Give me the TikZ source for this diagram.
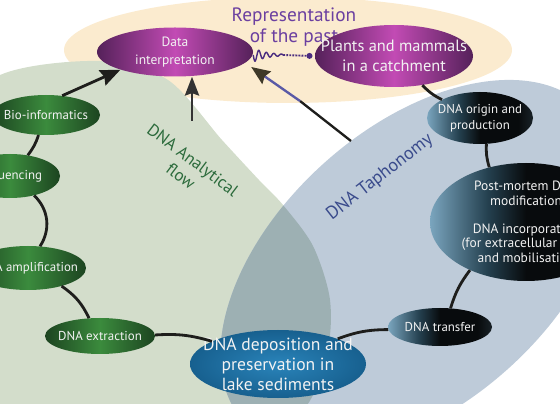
\documentclass[tikz,border=0pt]{standalone}
\usepackage{fontspec}
\setmainfont{PT Sans}
\usetikzlibrary{arrows.meta,shapes.geometric}
\newdimen\pxl \pxl=0.03cm
\definecolor{creambg}{HTML}{FBEBCF}
\definecolor{greenbg}{HTML}{D3DDCB}
\definecolor{bluebg}{HTML}{BECBD9}
\definecolor{mixbg}{HTML}{9DB0B3}
\definecolor{pudark}{HTML}{55215A}
\definecolor{pulight}{HTML}{C24BB4}
\definecolor{grdark}{HTML}{1C4420}
\definecolor{grlight}{HTML}{3B8B3D}
\definecolor{sllight}{HTML}{7AA5BE}
\definecolor{slmid}{HTML}{24404F}
\definecolor{sldark}{HTML}{080B0D}
\definecolor{sedouter}{HTML}{17608F}
\definecolor{sedinner}{HTML}{2A84BA}
\definecolor{ringcol}{HTML}{1E1E1C}
\definecolor{wavecol}{HTML}{4A2C7F}
\definecolor{titlecol}{HTML}{6B3FA0}
\definecolor{flowcol}{HTML}{2C6B3C}
\definecolor{taphcol}{HTML}{3A4B8C}
\definecolor{tipcol}{HTML}{3E3828}
\pgfdeclarehorizontalshading{slateshade}{100bp}{color(0bp)=(sllight); color(25bp)=(sllight);
  color(40bp)=(slmid); color(50bp)=(sldark); color(68bp)=(sldark); color(75bp)=(sldark!85!sllight); color(100bp)=(sldark!85!sllight)}
\tikzset{
  bubble/.style={ellipse, inner sep=-60pt, align=center, text=white!95!black,
    font=\fontsize{11}{13.5}\selectfont},
  greenbub/.style={bubble, left color=grdark, right color=grdark, middle color=grlight},
  slatebub/.style={bubble, shading=slateshade},
  purplebub/.style={bubble, left color=pudark, right color=pudark, middle color=pulight},
  ringline/.style={line width=2.4pt, draw=ringcol},
  bigarrow/.style={line width=2.4pt, -{Stealth[length=17pt,width=14pt,inset=2pt]}},
}
\begin{document}
\begin{tikzpicture}[x=0.03cm,y=-0.03cm]
\useasboundingbox (0,0) rectangle (560,404);
\clip (0,0) rectangle (560,404);
\def\greenpath{plot[smooth cycle] coordinates {(-80,140) (0,75) (100,61) (168,80) (222,140) (259,180) (283,205) (313,246) (330,300) (326,355) (292,420) (150,470) (-80,400)}}
\def\bluepath{[rotate around={42:(416,266)}] (416,266) ellipse [x radius=232, y radius=138]}
%background fields
\fill[creambg] (288,50) ellipse [x radius=224, y radius=53];
\fill[greenbg] \greenpath;
\fill[bluebg] \bluepath;
\begin{scope}
  \clip \greenpath;
  \fill[mixbg] \bluepath;
\end{scope}
%field labels
\node[text=titlecol, align=center, font=\fontsize{16.5}{17.5}\selectfont] (past) at (294,27) {Representation\\of the past};
\node[text=flowcol, align=center, rotate=-37, font=\fontsize{14.5}{17}\selectfont] (flow) at (187,168) {DNA Analytical\\flow};
\node[text=taphcol, rotate=38, font=\fontsize{15.5}{17}\selectfont] (taph) at (380,177) {DNA Taphonomy};
%top nodes
\node[purplebub, minimum width=156\pxl, minimum height=49\pxl, font=\fontsize{11.5}{15}\selectfont] (interp) at (175,52) {Data\\interpretation};
\node[purplebub, minimum width=158\pxl, minimum height=62\pxl, font=\fontsize{14}{17}\selectfont] (plants) at (394,56) {Plants and mammals\\in a catchment};
%analytical flow
\node[greenbub, minimum width=108\pxl, minimum height=40\pxl] (bioinf) at (46,115) {Bio-informatics};
\node[greenbub, minimum width=100\pxl, minimum height=44\pxl] (seq) at (10,176) {Sequencing};
\node[greenbub, minimum width=116\pxl, minimum height=44\pxl] (ampl) at (28,268) {DNA amplification};
\node[greenbub, minimum width=110\pxl, minimum height=36\pxl] (extr) at (100,336) {DNA extraction};
%taphonomy
\node[slatebub, minimum width=106\pxl, minimum height=52\pxl] (origin) at (480,118) {DNA origin and\\production};
\node[slatebub, minimum width=192\pxl, minimum height=118\pxl, font=\fontsize{11.5}{12.5}\selectfont] (postm) at (526,222) {Post-mortem DNA\\modification\\[11pt]DNA incorporation\\(for extracellular DNA)\\and mobilisation};
\node[slatebub, minimum width=104\pxl, minimum height=38\pxl] (transfer) at (440,327) {DNA transfer};
\node[bubble, shading=radial, inner color=sedinner, outer color=sedouter, minimum width=176\pxl, minimum height=68\pxl,
  font=\fontsize{15}{17}\selectfont] (depo) at (278,364) {DNA deposition and\\preservation in\\lake sediments};
%ring of connectors
\draw[ringline] (plants) to[bend right=10] (origin);
\draw[ringline] (origin) to[bend right=10] (postm);
\draw[ringline] (postm) to[bend right=10] (transfer);
\draw[ringline] (transfer) to[bend right=10] (depo);
\draw[ringline] (depo) to[bend right=10] (extr);
\draw[ringline] (extr) to[bend right=15] (ampl);
\draw[ringline] (ampl) to[bend right=40] (seq);
\draw[ringline] (seq) to[bend right=10] (bioinf);
%arrows to data interpretation
\coordinate (vstart) at (192,121);
\coordinate (tstart) at (351,141);
\coordinate (tmid) at (300,101);
\coordinate (ttip) at ([shift={(-2,15)}]interp.east);
\draw[bigarrow, ringcol] (bioinf.50) -- (interp.198);
\draw[bigarrow, black!80, -{Stealth[length=16pt,width=12pt,inset=2pt]}] (vstart) -- (vstart |- interp.south);
\draw[line width=2pt, ringcol] (tstart) -- (tmid);
\draw[line width=2pt, gray!70!blue, -{Stealth[length=16pt,width=13pt,inset=2pt,fill=tipcol,color=tipcol]}] (tmid) -- (ttip);
%wavy link to the catchment
\draw[wavecol, line width=1.2pt, shift={(interp.east)}] plot[domain=0:30, samples=120] ({\x},{3+7*exp(-\x/14)*sin(48*\x)}) coordinate (wend);
\draw[wavecol, line width=1.6pt, densely dotted, -{Circle[length=5pt]}] (wend) -- ([xshift=-2pt]plants.west);
\end{tikzpicture}
\end{document}
